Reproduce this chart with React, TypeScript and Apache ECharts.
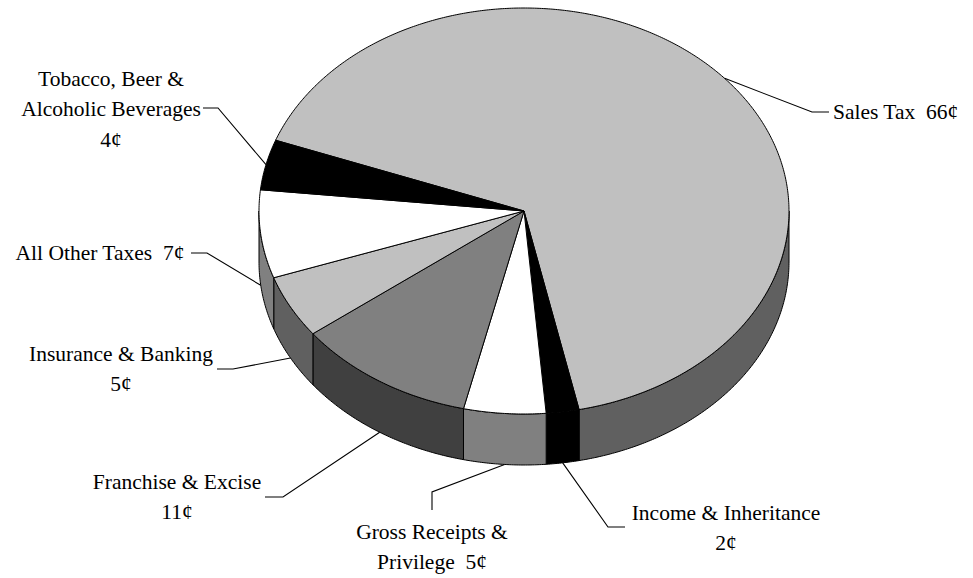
import React, { useEffect, useRef } from "react";
import * as echarts from "echarts";

// ---- data ----
const CATEGORIES = [
  "Sales Tax",
  "Income & Inheritance",
  "Gross Receipts & Privilege",
  "Franchise & Excise",
  "Insurance & Banking",
  "All Other Taxes",
  "Tobacco, Beer & Alcoholic Beverages",
];
const VALUES = [66, 2, 5, 11, 5, 7, 4];
// label wording as printed (line breaks) and separator before the value
const LABEL_NAMES = [
  "Sales Tax",
  "Income & Inheritance",
  "Gross Receipts &\nPrivilege",
  "Franchise & Excise",
  "Insurance & Banking",
  "All Other Taxes",
  "Tobacco, Beer &\nAlcoholic Beverages",
];
const LABEL_SEPS = ["  ", "\n", "  ", "\n", "\n", "  ", "\n"];
const UNIT = "¢";

// ---- styles / layout ----
const TOP_COLORS = ["#c0c0c0", "#000000", "#ffffff", "#808080", "#c0c0c0", "#ffffff", "#000000"];
const SIDE_COLORS = ["#606060", "#000000", "#808080", "#404040", "#606060", "#808080", "#000000"];
const CX = 524;
const CY = 211;
const RX = 265;
const RY = 203;
const DEPTH = 51;
const START_ANGLE = 200.4; // degrees, clockwise from +x on screen
const FONT = '21.5px "Liberation Serif", "Times New Roman", serif';
const LINE_H = 30.5;
// label boxes: text anchor, alignment, leader elbow points (outer part)
const LABEL_LAYOUT = [
  { x: 833, y: 112, align: "left", elbow: [[812, 112], [829, 112]] },
  { x: 726, y: 528, align: "center", elbow: [[608, 527], [625, 527]] },
  { x: 432, y: 547, align: "center", elbow: [[432, 492], [432, 510]] },
  { x: 177, y: 497, align: "center", elbow: [[283, 497], [265, 497]] },
  { x: 121, y: 369, align: "center", elbow: [[233, 369], [217, 369]] },
  { x: 100, y: 253, align: "center", elbow: [[207, 253], [191, 253]] },
  { x: 111, y: 109, align: "center", elbow: [[218, 108], [203, 108]] },
];

const total = VALUES.reduce((s, v) => s + v, 0);
const ANGLES: number[][] = [];
{
  let acc = START_ANGLE;
  VALUES.forEach((v) => {
    const span = (v / total) * 360;
    ANGLES.push([acc, acc + span]);
    acc += span;
  });
}

function pt(deg: number, drop: number): number[] {
  const r = (deg * Math.PI) / 180;
  return [CX + RX * Math.cos(r), CY + RY * Math.sin(r) + drop];
}

function arc(a: number, b: number, drop: number): number[][] {
  const pts: number[][] = [];
  const n = Math.max(2, Math.ceil(Math.abs(b - a) / 0.5));
  for (let k = 0; k <= n; k++) pts.push(pt(a + ((b - a) * k) / n, drop));
  return pts;
}

export default function App() {
  const ref = useRef<HTMLDivElement>(null);
  useEffect(() => {
    if (!ref.current) return;
    const chart = echarts.init(ref.current, null, { renderer: "svg" });
    const renderItem = (params: any) => {
      const i = params.dataIndex;
      const [a, b] = ANGLES[i];
      const children: any[] = [];
      // sides (front half only)
      for (const k of [0, 360, 720]) {
        const s = Math.max(a, k);
        const e = Math.min(b, k + 180);
        if (e > s) {
          const top = arc(s, e, 0);
          const bot = arc(e, s, DEPTH);
          children.push({
            type: "polygon",
            z2: 1,
            shape: { points: top.concat(bot) },
            style: { fill: SIDE_COLORS[i], stroke: "#000", lineWidth: 1, lineJoin: "round" },
          });
        }
      }
      // top face
      children.push({
        type: "polygon",
        z2: 2,
        shape: { points: [[CX, CY]].concat(arc(a, b, 0)) },
        style: { fill: TOP_COLORS[i], stroke: "#000", lineWidth: 1, lineJoin: "round" },
      });
      // leader line
      const mid = (a + b) / 2;
      const front = Math.sin((mid * Math.PI) / 180) > 0;
      const anchor = pt(mid, front ? DEPTH : 0);
      const lay = LABEL_LAYOUT[i];
      children.push({
        type: "polyline",
        z2: 10,
        shape: { points: [anchor].concat(lay.elbow) },
        style: { fill: null, stroke: "#000", lineWidth: 1.1 },
      });
      children.push({
        type: "text",
        z2: 11,
        x: lay.x,
        y: lay.y,
        style: {
          text: LABEL_NAMES[i] + LABEL_SEPS[i] + VALUES[i] + UNIT,
          font: FONT,
          fill: "#000",
          align: lay.align,
          verticalAlign: "middle",
          lineHeight: LINE_H,
        },
      });
      return { type: "group", children };
    };
    chart.setOption({
      animation: false,
      backgroundColor: "#ffffff",
      series: [
        {
          type: "custom",
          coordinateSystem: "none",
          silent: true,
          renderItem,
          data: VALUES.map((v, i) => ({ name: CATEGORIES[i], value: v })),
        },
      ],
    });
    return () => chart.dispose();
  }, []);
  return (
    <div
      ref={ref}
      style={{ position: "fixed", left: 0, top: 0, width: 973, height: 578, background: "#fff" }}
    />
  );
}
